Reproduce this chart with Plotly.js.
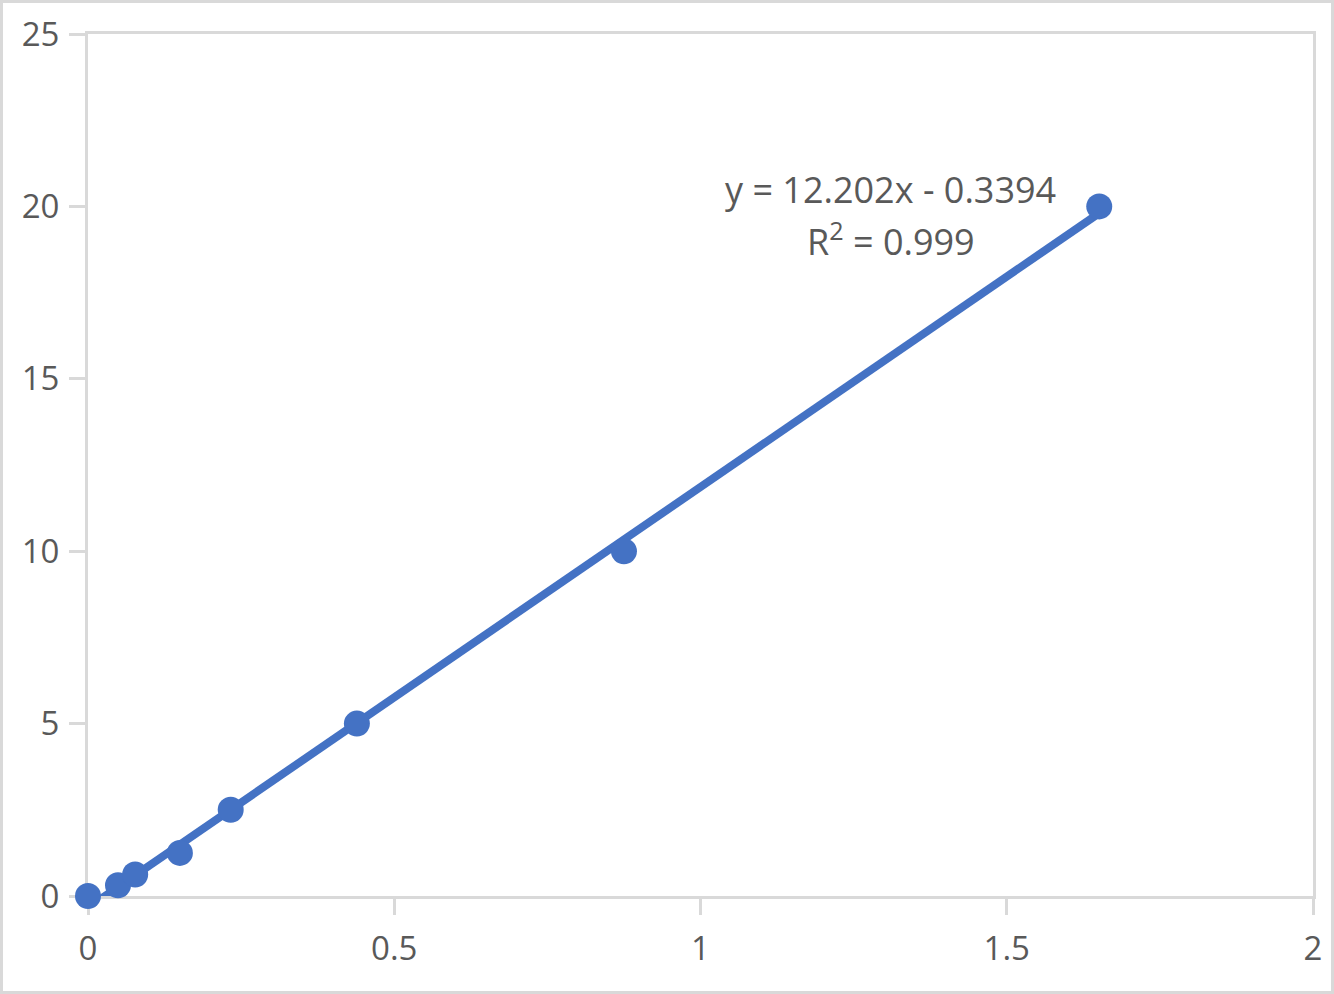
<!DOCTYPE html>
<html>
<head>
<meta charset="utf-8">
<script src="https://cdn.plot.ly/plotly-3.0.1.min.js"></script>
<style>
  html, body { margin: 0; padding: 0; background: #ffffff; }
  #chart { position: absolute; left: 0; top: 0; width: 1334px; height: 994px; }
  #frame { position: absolute; left: 0; top: 0; width: 1334px; height: 994px; box-sizing: border-box; border: 3px solid #d9d9d9; pointer-events: none; }
</style>
</head>
<body>
<div id="chart"></div>
<div id="frame"></div>
<script>
// Measured data points (x = reading, y = concentration)
const xValues = [0, 0.049, 0.077, 0.150, 0.233, 0.439, 0.875, 1.651];
const yValues = [0, 0.3125, 0.625, 1.25, 2.5, 5, 10, 20];

// Linear trendline coefficients as shown on the chart
const slope = 12.202;
const intercept = -0.3394;
const rSquared = 0.999;

const xTickVals = [0, 0.5, 1, 1.5, 2];
const xTickText = ['0', '0.5', '1', '1.5', '2'];
const yTickVals = [0, 5, 10, 15, 20, 25];
const yTickText = ['0', '5', '10', '15', '20', '25'];

const xMin = Math.min(...xValues);
const xMax = Math.max(...xValues);
const trendX = [xMin, xMax];
const trendY = trendX.map(x => slope * x + intercept);

const blue = '#4472C4';
const grey = '#d9d9d9';
const textColor = '#595959';
const fontFamily = '"Open Sans", "Noto Sans", sans-serif';

const traces = [
  {
    x: trendX, y: trendY, type: 'scatter', mode: 'lines',
    line: { color: blue, width: 8 }, hoverinfo: 'skip', showlegend: false
  },
  {
    x: xValues, y: yValues, type: 'scatter', mode: 'markers',
    marker: { color: blue, size: 26 }, showlegend: false, cliponaxis: false
  }
];

const axisCommon = {
  showgrid: false, zeroline: false,
  showline: true, linecolor: grey, linewidth: 3, mirror: true,
  ticks: 'outside', ticklen: 16, tickwidth: 3, tickcolor: grey,
  tickfont: { family: fontFamily, size: 33, color: textColor },
  tickmode: 'array', fixedrange: true, layer: 'below traces'
};

const annFont = { family: fontFamily, size: 36, color: textColor };

const layout = {
  width: 1334, height: 994,
  margin: { l: 88, r: 21, t: 34, b: 98 },
  paper_bgcolor: '#ffffff', plot_bgcolor: '#ffffff',
  showlegend: false,
  xaxis: Object.assign({}, axisCommon, { range: [0, 2], tickvals: xTickVals, ticktext: xTickText, ticklabelstandoff: 5 }),
  yaxis: Object.assign({}, axisCommon, { range: [0, 25], tickvals: yTickVals, ticktext: yTickText, ticklabelstandoff: 3 }),
  annotations: [
    {
      x: 1.3095, y: 20.50, xref: 'x', yref: 'y',
      text: 'y = ' + slope.toFixed(3) + 'x - ' + Math.abs(intercept).toFixed(4),
      showarrow: false, xanchor: 'center', yanchor: 'middle', font: annFont
    },
    {
      x: 1.311, y: 19.05, xref: 'x', yref: 'y',
      text: 'R<sup>2</sup> = ' + rSquared.toFixed(3),
      showarrow: false, xanchor: 'center', yanchor: 'middle', font: annFont
    }
  ]
};

Plotly.newPlot('chart', traces, layout, { displayModeBar: false, staticPlot: true });
</script>
</body>
</html>
